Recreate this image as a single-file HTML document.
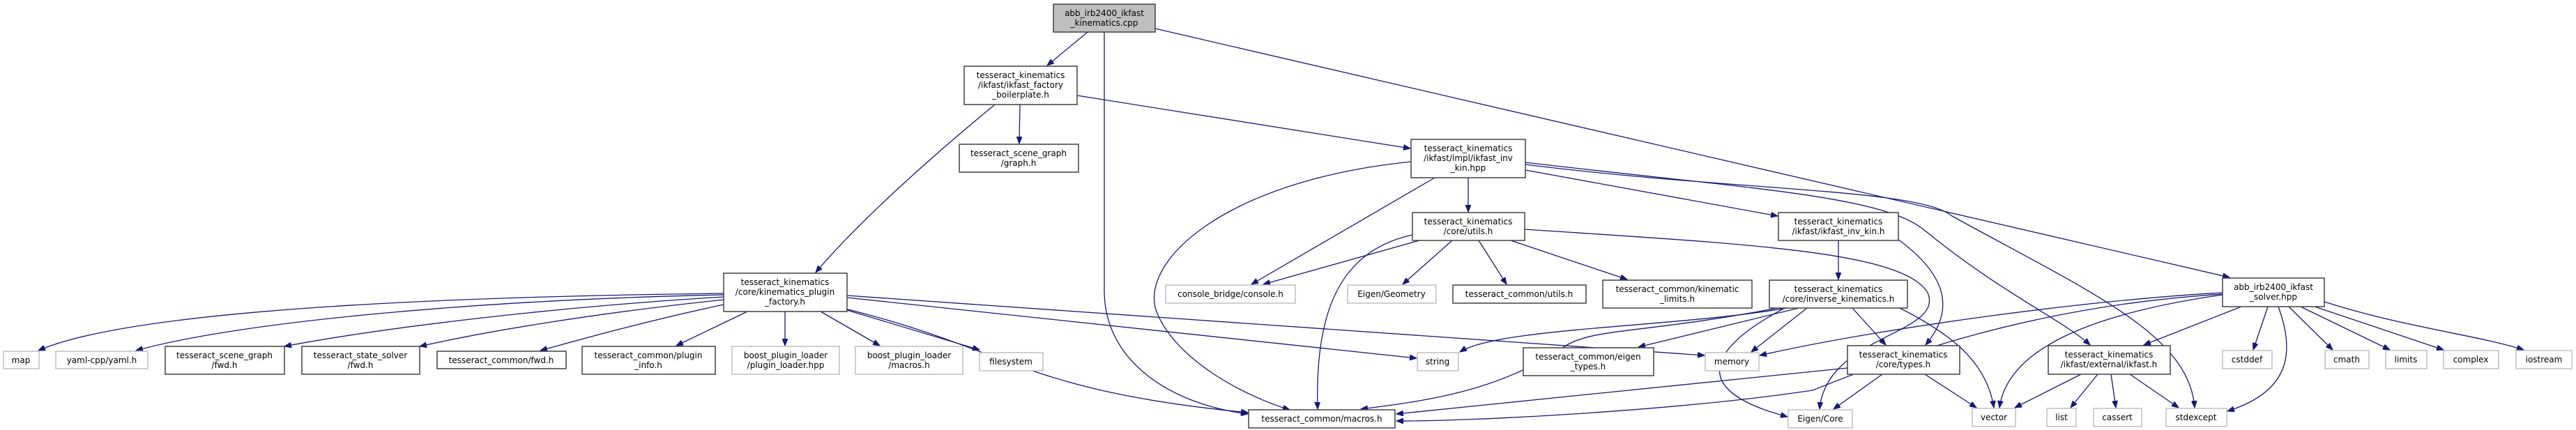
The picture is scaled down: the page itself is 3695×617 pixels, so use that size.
<!DOCTYPE html>
<html><head><meta charset="utf-8"><style>
html,body{margin:0;padding:0;background:#fff;}
svg{display:block;}
text{font-family:"DejaVu Sans","Liberation Sans",sans-serif;font-size:12px;fill:#000;text-anchor:middle;}
.e{fill:none;stroke:#191970;stroke-width:1.3;marker-end:url(#a);}
.d{fill:#fff;stroke:#404040;stroke-width:1.5;}
.l{fill:#fff;stroke:#bfbfbf;stroke-width:1.5;}
</style></head><body>
<svg width="3695" height="617" viewBox="0 0 3695 617" xmlns="http://www.w3.org/2000/svg">
<defs><marker id="a" markerUnits="userSpaceOnUse" markerWidth="11" markerHeight="8" refX="10" refY="4" orient="auto"><path d="M0,0 L10,4 L0,8 z" fill="#191970" stroke="#191970"/></marker></defs>
<!-- edges -->
<path class="e" d="M1560,46 L1502,94"/>
<path class="e" d="M1584,46 L1584,420 C1586,520 1680,580 1790,594"/>
<path class="e" d="M1657,41 L3198,398"/>
<path class="e" d="M1427,150 C1330,230 1230,320 1170,391"/>
<path class="e" d="M1463,150 L1462,206"/>
<path class="e" d="M1545,137 L2023,213"/>
<path class="e" d="M1038,421 C700,425 200,440 55,503"/>
<path class="e" d="M1038,423 C700,430 350,460 195,503"/>
<path class="e" d="M1038,426 C800,440 550,470 408,497"/>
<path class="e" d="M1038,430 C850,450 700,475 602,497"/>
<path class="e" d="M1038,437 C930,460 840,485 775,503"/>
<path class="e" d="M1072,447 L970,496"/>
<path class="e" d="M1126,447 L1126,496"/>
<path class="e" d="M1177,447 L1262,496"/>
<path class="e" d="M1215,445 L1405,502"/>
<path class="e" d="M1215,427 L2032,514"/>
<path class="e" d="M1215,424 L2445,510"/>
<path class="e" d="M1200,440 C1450,500 1460,560 1790,592"/>
<path class="e" d="M2106,255 L2106,304"/>
<path class="e" d="M2058,255 L1795,408"/>
<path class="e" d="M2024,232 C1750,260 1630,380 1660,450 C1690,520 1790,570 1850,588"/>
<path class="e" d="M2188,244 L2550,310"/>
<path class="e" d="M2188,233 C2500,270 2700,280 2760,330 C2870,420 2960,460 2998,495"/>
<path class="e" d="M2188,236 C2500,275 2750,270 2800,310 C3000,420 3140,480 3148,585"/>
<path class="e" d="M2187,329 C2500,350 2730,360 2765,420 C2790,480 2620,480 2610,587"/>
<path class="e" d="M2036,345 L1812,408"/>
<path class="e" d="M2083,345 L2012,408"/>
<path class="e" d="M2121,345 L2161,408"/>
<path class="e" d="M2167,345 L2334,401"/>
<path class="e" d="M2026,337 C1920,360 1886,450 1890,587"/>
<path class="e" d="M2637,345 L2637,401"/>
<path class="e" d="M2722,343 C2800,400 2800,450 2762,495"/>
<path class="e" d="M2563,442 C2400,470 2150,470 2094,505"/>
<path class="e" d="M2580,442 L2350,498"/>
<path class="e" d="M2592,442 L2512,505"/>
<path class="e" d="M2550,442 C2350,480 2280,470 2240,500 C2150,560 2050,575 1952,587"/>
<path class="e" d="M2560,442 C2450,500 2420,560 2564,598"/>
<path class="e" d="M2657,442 L2705,495"/>
<path class="e" d="M2725,442 C2800,480 2850,520 2860,585"/>
<path class="e" d="M2700,537 L2630,587"/>
<path class="e" d="M2761,537 L2835,585"/>
<path class="e" d="M2650,528 L2003,594"/>
<path class="e" d="M2985,537 L2890,585"/>
<path class="e" d="M3009,537 L2970,585"/>
<path class="e" d="M3028,537 L3035,585"/>
<path class="e" d="M3055,537 L3125,585"/>
<path class="e" d="M3253,440 L3232,502"/>
<path class="e" d="M3283,440 L3346,502"/>
<path class="e" d="M3300,440 L3428,502"/>
<path class="e" d="M3320,440 L3505,502"/>
<path class="e" d="M3334,433 C3450,470 3550,480 3620,502"/>
<path class="e" d="M3268,440 C3290,500 3290,560 3195,590"/>
<path class="e" d="M3215,440 L3075,495"/>
<path class="e" d="M3188,423 C3000,450 2880,500 2868,585"/>
<path class="e" d="M3188,420 C3000,430 2700,470 2524,510"/>
<path class="e" d="M3188,422 C2900,440 2700,520 2600,560 C2400,590 2100,605 2003,604"/>
<!-- nodes -->
<rect x="1511" y="6" width="146" height="40" fill="#bfbfbf" stroke="#404040" stroke-width="1.5"/><text x="1584" y="23">abb_irb2400_ikfast</text><text x="1584" y="37">_kinematics.cpp</text>
<rect class="d" x="1383" y="95" width="162" height="55"/><text x="1464" y="112">tesseract_kinematics</text><text x="1464" y="126">/ikfast/ikfast_factory</text><text x="1464" y="140">_boilerplate.h</text>
<rect class="d" x="1376" y="207" width="171" height="40"/><text x="1461" y="224">tesseract_scene_graph</text><text x="1461" y="238">/graph.h</text>
<rect class="d" x="2024" y="200" width="164" height="55"/><text x="2106" y="217">tesseract_kinematics</text><text x="2106" y="231">/ikfast/impl/ikfast_inv</text><text x="2106" y="245">_kin.hpp</text>
<rect class="d" x="1038" y="392" width="177" height="55"/><text x="1126" y="409">tesseract_kinematics</text><text x="1126" y="423">/core/kinematics_plugin</text><text x="1126" y="437">_factory.h</text>
<rect class="l" x="5" y="504" width="51" height="25"/><text x="30" y="521">map</text>
<rect class="l" x="80" y="504" width="132" height="25"/><text x="146" y="521">yaml-cpp/yaml.h</text>
<rect class="d" x="237" y="497" width="171" height="40"/><text x="322" y="514">tesseract_scene_graph</text><text x="322" y="528">/fwd.h</text>
<rect class="d" x="433" y="497" width="169" height="40"/><text x="517" y="514">tesseract_state_solver</text><text x="517" y="528">/fwd.h</text>
<rect class="d" x="627" y="504" width="185" height="25"/><text x="719" y="521">tesseract_common/fwd.h</text>
<rect class="d" x="835" y="497" width="191" height="40"/><text x="930" y="514">tesseract_common/plugin</text><text x="930" y="528">_info.h</text>
<rect class="l" x="1050" y="497" width="154" height="40"/><text x="1127" y="514">boost_plugin_loader</text><text x="1127" y="528">/plugin_loader.hpp</text>
<rect class="l" x="1227" y="497" width="154" height="40"/><text x="1304" y="514">boost_plugin_loader</text><text x="1304" y="528">/macros.h</text>
<rect class="l" x="1405" y="506" width="91" height="26"/><text x="1450" y="523">filesystem</text>
<rect class="l" x="1672" y="409" width="186" height="26"/><text x="1765" y="426">console_bridge/console.h</text>
<rect class="d" x="1791" y="588" width="210" height="26"/><text x="1896" y="605">tesseract_common/macros.h</text>
<rect class="d" x="2026" y="305" width="161" height="40"/><text x="2106" y="322">tesseract_kinematics</text><text x="2106" y="336">/core/utils.h</text>
<rect class="l" x="1933" y="409" width="127" height="26"/><text x="1996" y="426">Eigen/Geometry</text>
<rect class="d" x="2084" y="409" width="191" height="26"/><text x="2179" y="426">tesseract_common/utils.h</text>
<rect class="d" x="2299" y="402" width="214" height="40"/><text x="2406" y="419">tesseract_common/kinematic</text><text x="2406" y="433">_limits.h</text>
<rect class="l" x="2033" y="506" width="59" height="26"/><text x="2062" y="523">string</text>
<rect class="d" x="2185" y="499" width="187" height="40"/><text x="2278" y="516">tesseract_common/eigen</text><text x="2278" y="530">_types.h</text>
<rect class="l" x="2446" y="506" width="77" height="26"/><text x="2484" y="523">memory</text>
<rect class="d" x="2551" y="305" width="172" height="40"/><text x="2637" y="322">tesseract_kinematics</text><text x="2637" y="336">/ikfast/ikfast_inv_kin.h</text>
<rect class="d" x="2538" y="402" width="198" height="40"/><text x="2637" y="419">tesseract_kinematics</text><text x="2637" y="433">/core/inverse_kinematics.h</text>
<rect class="l" x="2565" y="588" width="92" height="26"/><text x="2611" y="605">Eigen/Core</text>
<rect class="d" x="2650" y="496" width="161" height="41"/><text x="2730" y="513">tesseract_kinematics</text><text x="2730" y="527">/core/types.h</text>
<rect class="l" x="2829" y="586" width="62" height="26"/><text x="2860" y="603">vector</text>
<rect class="d" x="2938" y="496" width="175" height="41"/><text x="3025" y="513">tesseract_kinematics</text><text x="3025" y="527">/ikfast/external/ikfast.h</text>
<rect class="l" x="2936" y="586" width="42" height="26"/><text x="2957" y="603">list</text>
<rect class="l" x="3003" y="586" width="69" height="26"/><text x="3037" y="603">cassert</text>
<rect class="l" x="3107" y="586" width="87" height="26"/><text x="3150" y="603">stdexcept</text>
<rect class="d" x="3188" y="399" width="146" height="41"/><text x="3261" y="416">abb_irb2400_ikfast</text><text x="3261" y="430">_solver.hpp</text>
<rect class="l" x="3188" y="503" width="71" height="26"/><text x="3223" y="520">cstddef</text>
<rect class="l" x="3335" y="503" width="63" height="26"/><text x="3366" y="520">cmath</text>
<rect class="l" x="3422" y="503" width="59" height="26"/><text x="3451" y="520">limits</text>
<rect class="l" x="3505" y="503" width="79" height="26"/><text x="3544" y="520">complex</text>
<rect class="l" x="3609" y="503" width="80" height="26"/><text x="3649" y="520">iostream</text>
</svg>
</body></html>
